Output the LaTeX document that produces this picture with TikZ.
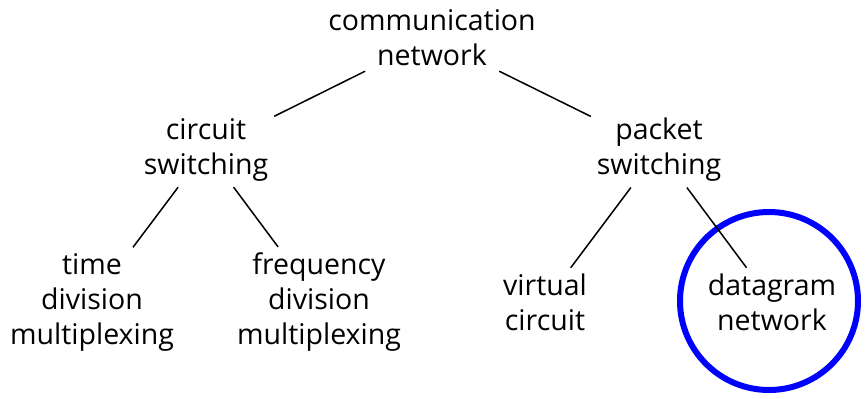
\documentclass[tikz,border=0pt]{standalone}
\usepackage{fontspec}
\setmainfont{Open Sans}
\begin{document}
\begin{tikzpicture}[x=1pt,y=-1pt,
                    topic/.style={align=center,inner sep=4pt,
                      font=\fontsize{28.5}{35}\selectfont},
                    branch/.style={line width=1.5pt,shorten <=2pt,shorten >=2pt}]
\useasboundingbox (0,0) rectangle (865,399);
\node[topic] (net) at (432,38) {communication\\network};
\node[topic] (circ) at (206,150) {circuit\\switching};
\node[topic] (pack) at (659,150) {packet\\switching};
\node[topic] (tdm) at (92,302) {time\\division\\multiplexing};
\node[topic] (fdm) at (319,302) {frequency\\division\\multiplexing};
\node[topic] (vc) at (545,302) {virtual\\circuit};
\node[topic] (dg) at (772,302) {datagram\\network};
\node[draw=blue,line width=6pt,circle,minimum size=178pt] (ring) at (769,301) {};
\draw[branch] (net) -- (circ);
\draw[branch] (net) -- (pack);
\draw[branch] (circ) -- (tdm);
\draw[branch] (circ) -- (fdm);
\draw[branch] (pack) -- (vc);
\draw[branch] (pack) -- (dg);
\end{tikzpicture}
\end{document}
